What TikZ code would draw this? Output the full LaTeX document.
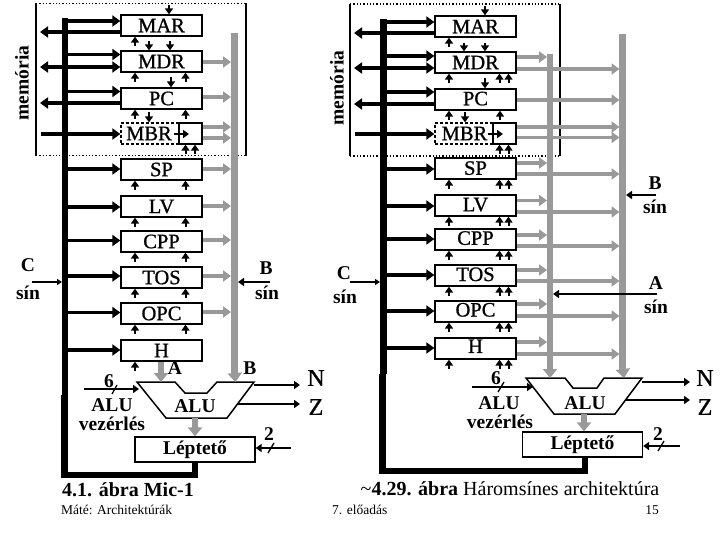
\documentclass[tikz,border=0pt]{standalone}
\usepackage{fontspec}
\setmainfont{Liberation Serif}
\newfontfamily\heavyfont[FakeBold=0.9]{Liberation Serif}
\usetikzlibrary{arrows.meta,calc}
\definecolor{busgray}{HTML}{999999}
\tikzset{
  x=1pt,y=-1pt,
  lbl/.style={font=\fontsize{19.5}{19.5}\selectfont\bfseries,inner sep=0pt},
  big/.style={font=\fontsize{24}{24}\selectfont\heavyfont,inner sep=0pt},
  small/.style={font=\fontsize{13.5}{13.5}\selectfont,inner sep=0pt},
  reg/.style={draw=black,fill=white,line width=1.3pt,minimum width=81pt,minimum height=21pt,inner sep=0pt,font=\fontsize{20.5}{20.5}\selectfont\heavyfont},
  subreg/.style={draw=black,line width=1.3pt,inner sep=0pt},
  dreg/.style={reg,dashed,dash pattern=on 3pt off 2pt},
  shifter/.style={reg,minimum width=120pt,minimum height=25pt,font=\fontsize{19.5}{19.5}\selectfont\bfseries},
  cbus/.style={line width=6.5pt,black},
  bbus/.style={line width=6.5pt,busgray},
  barrow/.style={line width=3.6pt,black,-{Triangle[length=8pt,width=11pt]}},
  bdarrow/.style={line width=3.6pt,black,{Triangle[length=8pt,width=11pt]}-{Triangle[length=8pt,width=11pt]}},
  garrow/.style={line width=3.6pt,busgray,-{Triangle[length=8pt,width=11pt]}},
  bigg/.style={line width=6.5pt,busgray,-{Triangle[length=9pt,width=14pt]}},
  thin1/.style={line width=1.1pt,black,-{Triangle[length=5pt,width=6pt]}},
  thin2/.style={line width=1.6pt,black,-{Triangle[length=6pt,width=8pt]}},
  ctl/.style={line width=2pt,black,-{Triangle[length=6pt,width=8pt]}},
  membox/.style={line width=1.2pt,black},
  memdot/.style={line width=1.3pt,black,dotted},
  alu/.style={draw=black,fill=white,line width=1.5pt},
}
\newcommand{\ctlup}[2]{\draw[ctl] ($(#2,0 |- #1.south)+(0,9)$) -- (#2,0 |- #1.south);}
\newcommand{\ctldn}[2]{\draw[ctl] ($(#2,0 |- #1.north)+(0,-10)$) -- (#2,0 |- #1.north);}
\newcommand{\tx}[2]{\raisebox{#1pt}{#2}}
\begin{document}
\begin{tikzpicture}
\useasboundingbox (0,0) rectangle (720,540);
\fill[white] (0,0) rectangle (720,540);

% ===== left diagram =====
\coordinate (LC) at (65,0);
\coordinate (LB) at (234.5,0);
\coordinate (LBe) at (231,0);
\draw[memdot] (36,3.5) -- (246,3.5);
\draw[memdot] (36,155.5) -- (246,155.5);
\draw[membox] (36,3) -- (36,156);
\draw[membox] (246,3) -- (246,156);
\node[lbl,rotate=90] (lmem) at (22,83) {memória};

\draw[cbus] (LC |- 0,18) -- (LC |- 0,395);
\draw[bbus] (LB |- 0,33) -- (LB |- 0,373);

\node[reg] (lmar) at (161.5,25.5) {\tx{-1.5}{MAR}};
\node[reg] (lmdr) at (161.5,61.5) {\tx{-1.5}{MDR}};
\node[reg] (lpc)  at (161.5,98.5) {\tx{-1}{PC}};
\node[dreg] (lmbr) at (161.5,133.5) {\hspace*{-25pt}\tx{-1}{MBR}};
\node[subreg,minimum width=23pt,minimum height=21pt] (lmbx) at (190.5,133.5) {};
\node[reg] (lsp)  at (161.5,169.5) {\tx{-2}{SP}};
\node[reg] (llv)  at (161.5,206.5) {\tx{-1}{LV}};
\node[reg] (lcpp) at (161.5,241.5) {\tx{-1}{CPP}};
\node[reg] (ltos) at (161.5,277.5) {\tx{-2}{TOS}};
\node[reg] (lopc) at (161.5,313.5) {\tx{-1}{OPC}};
\node[reg] (lh)   at (161.5,350.5) {\tx{-1}{H}};

\foreach \n/\y in {lmar/21,lmdr/54.5,lpc/91.5,lsp/169,llv/207,lcpp/240.5,ltos/276,lopc/312.5,lh/350}
  \draw[barrow] (LC |- 0,\y) -- (\n.west |- 0,\y);
\draw[barrow] (lmar.west |- 0,32) -- (40,32);
\draw[barrow] (lpc.west |- 0,103) -- (40,103);
\draw[bdarrow] (40,67) -- (lmdr.west |- 0,67);
\draw[barrow] (41,134) -- (lmbr.west |- 0,134);
\draw[thin2] (174,134) -- (189,134);

\foreach \n/\y in {lmdr/62,lpc/97,lmbx/127,lmbx/138,lsp/169,llv/206,lcpp/240,ltos/276,lopc/312}
  \draw[garrow] (\n.east |- 0,\y) -- (LBe |- 0,\y);

\draw[ctl] (169,5) -- (169,0 |- lmar.north);
\ctlup{lmar}{135}
\draw[ctl] (149,41) -- (149,0 |- lmdr.north);
\draw[ctl] (170,41) -- (170,0 |- lmdr.north);
\ctlup{lmdr}{135}\ctlup{lmdr}{185.5}
\ctldn{lpc}{171}
\ctlup{lpc}{135}\ctlup{lpc}{185.5}
\ctldn{lmbr}{149}
\ctlup{lmbx}{185.5}\ctlup{lmbx}{195}
\foreach \n in {lsp,llv,lcpp,ltos,lopc}{\ctlup{\n}{135}\ctlup{\n}{185.5}}
\ctlup{lh}{135}

\draw[alu] (137,382) -- (175,382) -- (185,393) -- (207,393) -- (217,382) -- (254,382) -- (227,418) -- (166,418) -- cycle;
\coordinate (lalua) at (161,382);
\coordinate (lalub) at (235.5,382);
\node[lbl] (lalut) at (195,406) {ALU};
\node[shifter] (lshift) at (195,449.5) {Léptető};
\draw[bigg] (lh.south -| lalua) -- (lalua);
\draw[bigg] (LB |- 0,370) -- (lalub);
\draw[bigg] (195,418) -- (lshift.north);
\node[lbl] (la) at (175,368) {A};
\node[lbl] (lb) at (250,368) {B};

\draw[cbus] (64.5,395) -- (64.5,475) -- (195,475) -- (lshift.south -| 195,0);
\node[lbl] (lc1) at (28,265) {C};
\node[lbl] (lc2) at (28,293) {sín};
\coordinate (lcs) at (32,282);
\draw[thin1] (lcs) -- (62,282);
\node[lbl] (lb1) at (266,268) {B};
\node[lbl] (lb2) at (267,293) {sín};
\coordinate (lbs) at (270,282);
\draw[thin2] (lbs) -- (238,282);

\node[lbl] (l6) at (109,381) {6};
\coordinate (l6s) at (84,389);
\draw[thin2] (l6s) -- (139,389);
\draw[line width=1.3pt] (112,394) -- (117,385);
\node[lbl] (lac) at (112,405) {ALU};
\node[lbl] (lvz) at (112,424) {vezérlés};
\node[big] (ln) at (316,378) {N};
\node[big] (lz) at (316,407) {Z};
\draw[thin2] (254,385) -- (300,385);
\draw[thin2] (238,404) -- (300,404);
\node[lbl] (l2) at (269,434) {2};
\coordinate (l2s) at (291,448);
\draw[thin2] (l2s) -- (lshift.east |- 0,448);
\draw[line width=1.3pt] (268,453) -- (274,443);
\node[lbl,font=\fontsize{20}{20}\selectfont\bfseries] (lcap) at (128,490) {4.1. ábra Mic-1};
\node[small,anchor=west] (lfoot) at (61,510) {Máté: Architektúrák};

% ===== right diagram =====
\coordinate (RC) at (383.5,0);
\coordinate (RA) at (550,0);
\coordinate (RB) at (622.5,0);
\coordinate (RAe) at (547,0);
\coordinate (RBe) at (619.5,0);
\draw[memdot] (350,4) -- (560,4);
\draw[memdot] (350,156) -- (560,156);
\draw[membox] (350,4) -- (350,156);
\draw[membox] (560,4) -- (560,156);
\node[lbl,rotate=90] (rmem) at (337,88) {memória};

\draw[cbus] (RC |- 0,19) -- (RC |- 0,374);
\draw[bbus] (RA |- 0,54) -- (RA |- 0,372);
\draw[bbus] (RB |- 0,34) -- (RB |- 0,372);

\node[reg] (rmar) at (475.5,26.5) {MAR};
\node[reg] (rmdr) at (475.5,62.5) {MDR};
\node[reg] (rpc)  at (475.5,99.5) {\tx{2}{PC}};
\node[dreg] (rmbr) at (475.5,133.5) {\hspace*{-22pt}MBR};
\node[subreg,minimum width=23pt,minimum height=21pt] (rmbx) at (504.5,133.5) {};
\node[reg] (rsp)  at (475.5,168.5) {\tx{1}{SP}};
\node[reg] (rlv)  at (475.5,205.5) {\tx{2}{LV}};
\node[reg] (rcpp) at (475.5,239.5) {\tx{3}{CPP}};
\node[reg] (rtos) at (475.5,275.5) {\tx{2.5}{TOS}};
\node[reg] (ropc) at (475.5,311.5) {\tx{3.5}{OPC}};
\node[reg] (rh)   at (475.5,348.5) {\tx{4.5}{H}};

\foreach \n/\y in {rmar/22,rmdr/56,rpc/92,rsp/169,rlv/206,rcpp/239,rtos/275,ropc/311,rh/348}
  \draw[barrow] (RC |- 0,\y) -- (\n.west |- 0,\y);
\draw[barrow] (rmar.west |- 0,33) -- (354,33);
\draw[barrow] (rpc.west |- 0,104) -- (354,104);
\draw[bdarrow] (354,68) -- (rmdr.west |- 0,68);
\draw[barrow] (355,134) -- (rmbr.west |- 0,134);
\draw[thin2] (488,134) -- (503,134);

\foreach \n/\y in {rmdr/57,rsp/163,rlv/200.5,rcpp/235,rtos/270,ropc/304,rh/342}
  \draw[garrow] (\n.east |- 0,\y) -- (RAe |- 0,\y);
\foreach \n/\y in {rmdr/69,rpc/100,rmbx/127,rmbx/137.5,rsp/174,rlv/212,rcpp/246,rtos/281,ropc/316,rh/354}
  \draw[garrow] (\n.east |- 0,\y) -- (RBe |- 0,\y);

\draw[ctl] (485,6) -- (485,0 |- rmar.north);
\ctlup{rmar}{449}
\draw[ctl] (464,43) -- (464,0 |- rmdr.north);
\draw[ctl] (485,43) -- (485,0 |- rmdr.north);
\ctlup{rmdr}{449}\ctlup{rmdr}{499.5}\ctlup{rmdr}{508.5}
\ctldn{rpc}{485}
\ctlup{rpc}{449}\ctlup{rpc}{500}
\ctldn{rmbr}{465}
\ctlup{rmbx}{499.5}\ctlup{rmbx}{508.5}
\foreach \n in {rsp,rlv,rcpp,rtos,ropc,rh}{\ctlup{\n}{449}\ctlup{\n}{499.5}\ctlup{\n}{508.5}}

\draw[alu] (526,378) -- (565,378) -- (573,388) -- (597,388) -- (604,378) -- (642,378) -- (615,414) -- (554,414) -- cycle;
\coordinate (ralua) at (550,378);
\coordinate (ralub) at (624,378);
\node[lbl] (ralut) at (585,403) {ALU};
\node[shifter] (rshift) at (582.5,444.5) {Léptető};
\draw[bigg] (RA |- 0,366) -- (ralua);
\draw[bigg] (RB |- 0,366) -- (ralub);
\draw[bigg] (584,414) -- (584,0 |- rshift.north);

\draw[cbus] (382.5,374) -- (382.5,471) -- (585,471) -- (rshift.south -| 585,0);
\node[lbl] (rc1) at (344,273) {C};
\node[lbl] (rc2) at (345,297) {sín};
\coordinate (rcs) at (350,282);
\draw[thin1] (rcs) -- (380,282);
\node[lbl] (rb1) at (655,183) {B};
\node[lbl] (rb2) at (655,207) {sín};
\coordinate (rbs) at (656,195);
\draw[thin2] (rbs) -- (626,195);
\node[lbl] (ra1) at (656,283) {A};
\node[lbl] (ra2) at (656,307) {sín};
\coordinate (ras) at (657,294);
\draw[thin2] (ras) -- (553,294);

\node[lbl] (r6) at (496,378) {6};
\coordinate (r6s) at (472,387);
\draw[thin2] (r6s) -- (533,387);
\draw[line width=1.3pt] (498,392) -- (504,382);
\node[lbl] (rac) at (499,403) {ALU};
\node[lbl] (rvz) at (500,422) {vezérlés};
\node[big] (rn) at (705,378) {N};
\node[big] (rz) at (705,407) {Z};
\draw[thin2] (642,382) -- (690,382);
\draw[thin2] (625,400) -- (690,400);
\node[lbl] (r2) at (658,434) {2};
\coordinate (r2s) at (680,446);
\draw[thin2] (r2s) -- (rshift.east |- 0,446);
\draw[line width=1.3pt] (658,451) -- (664,441);
\node[font=\fontsize{20}{20}\selectfont,inner sep=0pt] (rcap) at (510,489) {\textasciitilde\textbf{4.29. ábra} Háromsínes architektúra};
\node[small,anchor=west] (rfoot) at (332,510) {7. előadás};
\node[small] (rpage) at (652,510) {15};
\end{tikzpicture}
\end{document}
